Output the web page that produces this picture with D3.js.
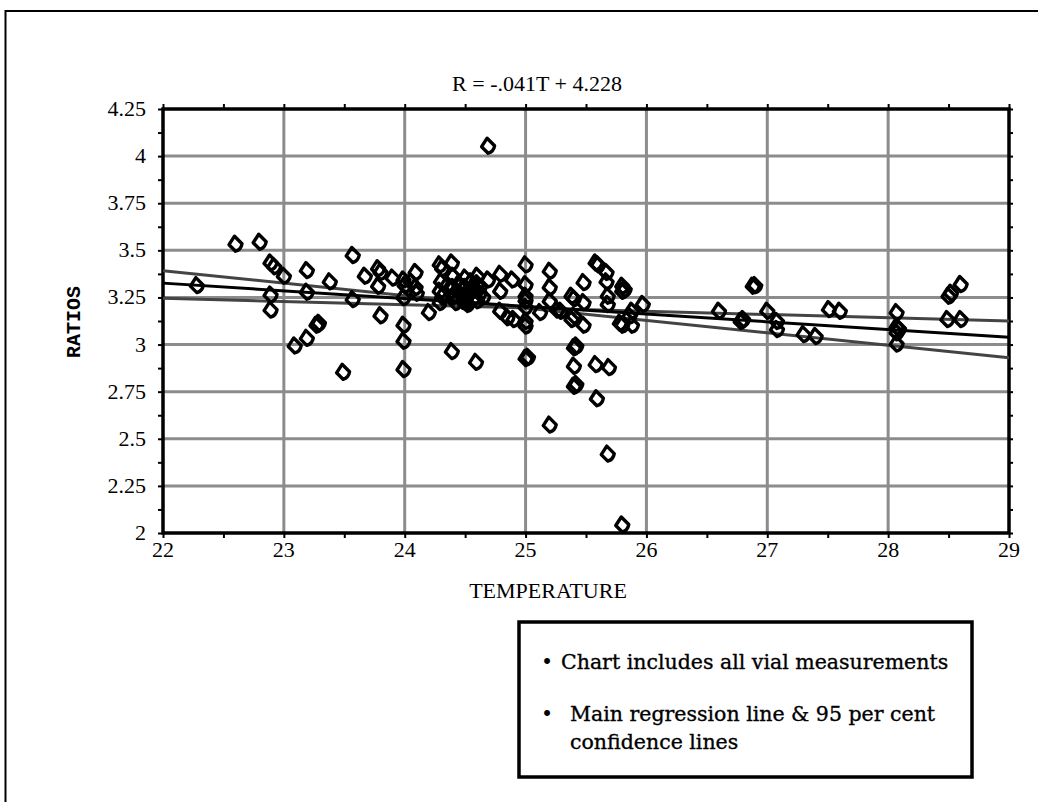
<!DOCTYPE html>
<html>
<head>
<meta charset="utf-8">
<script src="https://cdn.jsdelivr.net/npm/d3@7"></script>
<style>
  html, body { margin: 0; padding: 0; background: #fff; }
  svg { display: block; }
</style>
</head>
<body>
<svg id="chart" width="1038" height="802"></svg>
<script>
// ---- data ----
const temperatures = [
  22.28, 22.6, 22.8, 22.89, 22.92, 22.89, 22.89, 23.0, 23.19, 23.19, 23.19, 23.09, 23.27, 23.29,
  23.38, 23.49, 23.57, 23.57, 23.67, 23.78, 23.8, 23.78, 23.8, 23.9, 23.99, 23.99, 23.99, 23.99, 23.99,
  24.0, 24.09, 24.09, 24.05, 24.1, 24.2, 24.29, 24.31, 24.3, 24.29, 24.31, 24.29, 24.39, 24.4, 24.4,
  24.4, 24.42, 24.45, 24.48, 24.5, 24.5, 24.52, 24.5, 24.55, 24.6, 24.6, 24.62, 24.6, 24.65, 24.69,
  24.39, 24.59, 24.69, 24.79, 24.79, 24.89, 24.79, 24.85, 24.9, 25.0, 25.0, 25.0, 25.0, 25.0, 25.0,
  25.0, 25.02, 25.0, 25.2, 25.2, 25.2, 25.12, 25.26, 25.29, 25.2, 25.38, 25.4, 25.38, 25.4, 25.4,
  25.42, 25.4, 25.4, 25.42, 25.48, 25.48, 25.48, 25.58, 25.6, 25.58, 25.59, 25.67, 25.67, 25.68,
  25.68, 25.69, 25.68, 25.8, 25.8, 25.82, 25.78, 25.8, 25.88, 25.88, 25.86, 25.97, 25.8, 26.6,
  26.78, 26.8, 26.88, 26.9, 27.0, 27.08, 27.08, 27.3, 27.4, 27.51, 27.6, 28.07, 28.07, 28.09,
  28.07, 28.07, 28.5, 28.52, 28.6, 28.49, 28.6,
  24.45, 24.5, 24.55, 24.58, 24.48, 24.62, 24.35, 24.42, 24.52, 24.57
];
const ratios = [
  3.31, 3.53, 3.54, 3.43, 3.41, 3.26, 3.18, 3.36, 3.39, 3.275, 3.03, 2.99, 3.10, 3.11,
  3.33, 2.85, 3.47, 3.236, 3.36, 3.40, 3.38, 3.307, 3.15, 3.35, 3.34, 3.246, 3.10, 3.015, 2.865,
  3.31, 3.38, 3.30, 3.33, 3.27, 3.167, 3.42, 3.40, 3.33, 3.28, 3.25, 3.22, 3.43, 3.36, 3.30,
  3.25, 3.22, 3.32, 3.227, 3.35, 3.30, 3.26, 3.22, 3.28, 3.36, 3.32, 3.27, 3.23, 3.25, 3.34,
  2.96, 2.903, 4.05, 3.37, 3.28, 3.34, 3.174, 3.14, 3.13, 3.42, 3.315, 3.254, 3.195, 3.12, 3.095,
  2.923, 2.93, 3.23, 3.386, 3.30, 3.227, 3.167, 3.18, 3.174, 2.57, 3.254, 3.24, 3.13, 3.148, 2.98,
  2.99, 2.882, 2.776, 2.786, 3.326, 3.22, 3.10, 3.43, 3.42, 2.891, 2.71, 3.38, 3.33, 3.254,
  3.21, 2.875, 2.416, 3.307, 3.28, 3.29, 3.11, 3.10, 3.10, 3.174, 3.148, 3.21, 2.04, 3.174,
  3.12, 3.13, 3.307, 3.31, 3.174, 3.12, 3.077, 3.05, 3.04, 3.183, 3.174, 3.167, 3.09, 3.08,
  3.06, 3.0, 3.254, 3.27, 3.316, 3.13, 3.13,
  3.27, 3.24, 3.33, 3.25, 3.29, 3.30, 3.31, 3.26, 3.21, 3.29
];
const xTicks = [22, 23, 24, 25, 26, 27, 28, 29];
const yTicks = [2, 2.25, 2.5, 2.75, 3, 3.25, 3.5, 3.75, 4, 4.25];
// regression line R = -.041T + 4.228 and 95% confidence lines (endpoints at T=22 and T=29)
const lineT = [22, 29];
const regression = [3.326, 3.039];
const confUpper = [3.392, 2.93];
const confLower = [3.246, 3.125];
const titleText = "R = -.041T + 4.228";
const xLabel = "TEMPERATURE";
const yLabel = "RATIOS";
const legendLines = [
  {bullet: "•", text: "Chart includes all vial measurements"},
  {bullet: "•", text: "Main regression line & 95 per cent"},
  {bullet: "", text: "confidence lines"}
];

// ---- layout ----
(function () {
const svg = d3.select("#chart");
const pL = 163, pR = 1009, pT = 109, pB = 533;
const x = d3.scaleLinear().domain([22, 29]).range([pL, pR]);
const y = d3.scaleLinear().domain([2, 4.25]).range([pB, pT]);
const serif = "'Liberation Serif', 'Times New Roman', serif";

// outer frame
svg.append("rect").attr("x", 5.5).attr("y", 11).attr("width", 1040).attr("height", 800)
  .attr("fill", "none").attr("stroke", "#000").attr("stroke-width", 2);

// gridlines
const grid = svg.append("g");
grid.selectAll("line.gx").data(xTicks.filter(d => d > 22 && d < 29)).enter().append("line")
  .attr("x1", d => x(d)).attr("x2", d => x(d)).attr("y1", pT).attr("y2", pB)
  .attr("stroke", "#8c8c8c").attr("stroke-width", 3);
grid.selectAll("line.gy").data(yTicks.filter(d => d > 2 && d < 4.25)).enter().append("line")
  .attr("x1", pL).attr("x2", pR).attr("y1", d => y(d)).attr("y2", d => y(d))
  .attr("stroke", "#8c8c8c").attr("stroke-width", 3);

// axes
const minorX = d3.range(22, 29.01, 0.5);
const minorY = d3.range(2, 4.2501, 0.125);
function styleAxis(g) {
  g.select(".domain").remove();
  g.selectAll(".tick line").attr("stroke", "#000").attr("stroke-width", 2);
}
svg.append("g").attr("transform", `translate(0,${pB})`)
  .call(d3.axisBottom(x).tickValues(minorX).tickSize(5).tickFormat(""))
  .call(styleAxis);
svg.append("g").attr("transform", `translate(0,${pT})`)
  .call(d3.axisTop(x).tickValues(minorX).tickSize(5).tickFormat(""))
  .call(styleAxis);
svg.append("g").attr("transform", `translate(${pL},0)`)
  .call(d3.axisLeft(y).tickValues(minorY).tickSize(5).tickFormat(""))
  .call(styleAxis);
svg.append("g").attr("transform", `translate(${pR},0)`)
  .call(d3.axisRight(y).tickValues(minorY).tickSize(4).tickFormat(""))
  .call(styleAxis);

// tick labels
svg.append("g").selectAll("text").data(xTicks).enter().append("text")
  .attr("x", d => x(d)).attr("y", pB + 24)
  .attr("text-anchor", "middle").attr("font-family", serif).attr("font-size", 22)
  .text(d => d3.format("")(d));
svg.append("g").selectAll("text").data(yTicks).enter().append("text")
  .attr("x", pL - 17).attr("y", d => y(d) + 7)
  .attr("text-anchor", "end").attr("font-family", serif).attr("font-size", 22)
  .text(d => d3.format("")(d));

// plot box
svg.append("rect").attr("x", pL).attr("y", pT).attr("width", pR - pL).attr("height", pB - pT)
  .attr("fill", "none").attr("stroke", "#000").attr("stroke-width", 3.5);

// lines
const lineGen = d3.line().x(d => x(d[0])).y(d => y(d[1]));
[[confUpper, "#444"], [confLower, "#444"], [regression, "#000"]].forEach(([vals, col]) => {
  svg.append("path").datum(lineT.map((t, i) => [t, vals[i]]))
    .attr("d", lineGen).attr("fill", "none").attr("stroke", col).attr("stroke-width", 3);
});

// markers (diamonds)
const marker = "M-1,-8.5 L6.5,-1 Q5.5,5 0,6.5 L-6.5,0 Z";
svg.append("g").selectAll("path").data(temperatures.map((t, i) => [t, ratios[i]])).enter()
  .append("path")
  .attr("transform", d => `translate(${x(d[0])},${y(d[1])})`)
  .attr("d", marker)
  .attr("fill", "none").attr("stroke", "#000").attr("stroke-width", 3.4)
  .attr("stroke-linejoin", "round");

// title & axis labels
svg.append("text").attr("x", 537).attr("y", 91).attr("text-anchor", "middle")
  .attr("font-family", serif).attr("font-size", 22).text(titleText);
svg.append("text").attr("x", 548).attr("y", 598).attr("text-anchor", "middle")
  .attr("font-family", serif).attr("font-size", 22).text(xLabel);
svg.append("text").attr("transform", "translate(80,322) rotate(-90)").attr("text-anchor", "middle")
  .attr("font-family", "'Liberation Mono', monospace").attr("font-weight", "bold")
  .attr("font-size", 20).text(yLabel);

// legend box
svg.append("rect").attr("x", 519).attr("y", 622).attr("width", 453).attr("height", 155)
  .attr("fill", "#fff").attr("stroke", "#000").attr("stroke-width", 3.5);
const legendFont = "'DejaVu Serif', serif";
const ly = [669, 721, 749];
legendLines.forEach((l, i) => {
  if (l.bullet) {
    svg.append("text").attr("x", 541).attr("y", ly[i]).attr("font-family", legendFont)
      .attr("font-size", 20.5).text(l.bullet);
  }
  svg.append("text").attr("x", i === 0 ? 561 : 570).attr("y", ly[i]).attr("font-family", legendFont)
    .attr("font-size", 20.5).attr("stroke", "#000").attr("stroke-width", 0.35).text(l.text);
});
})();
</script>
</body>
</html>
